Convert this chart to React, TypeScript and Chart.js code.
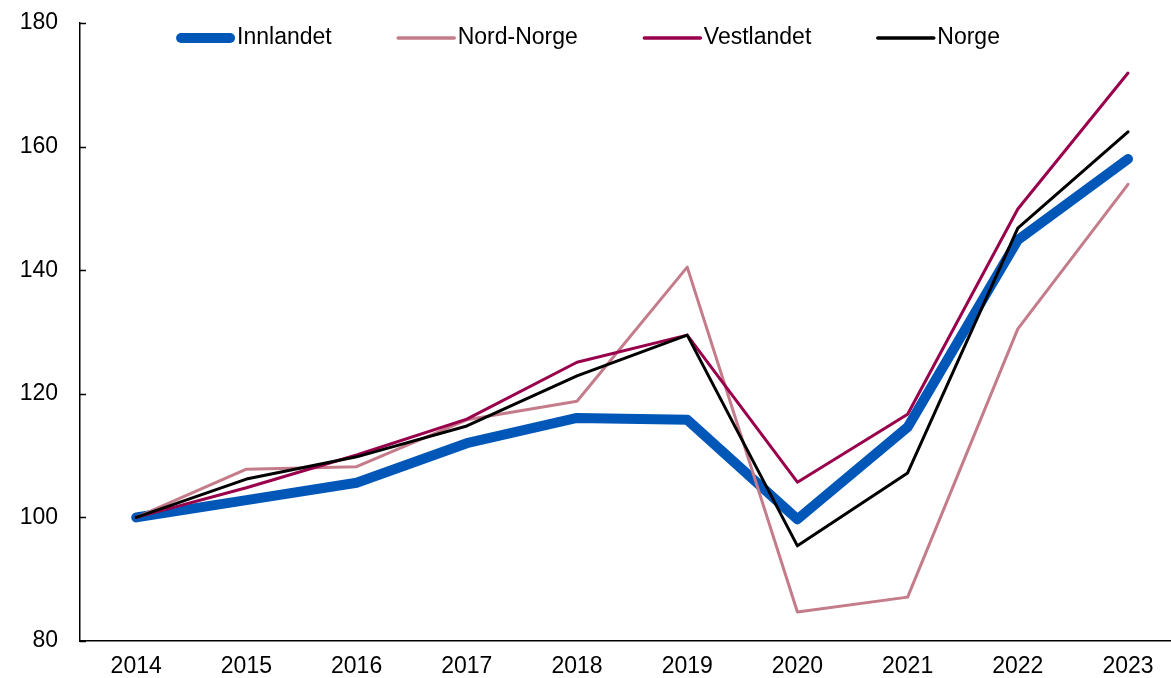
import React, { useEffect, useRef } from "react";
import { Chart, registerables } from "chart.js";

Chart.register(...registerables);

const years = [2014, 2015, 2016, 2017, 2018, 2019, 2020, 2021, 2022, 2023];
const innlandet = [100, 102.8, 105.6, 112, 116.1, 115.8, 99.7, 114.6, 144.9, 158];
const nordNorge = [100, 107.8, 108.2, 115.8, 118.8, 140.5, 84.7, 87.1, 130.5, 153.9];
const vestlandet = [100, 104.8, 110.1, 115.9, 125.1, 129.5, 105.7, 116.7, 149.9, 171.9];
const norge = [100, 106.2, 109.8, 114.8, 122.9, 129.5, 95.4, 107.2, 146.8, 162.4];
const yTicks = [80, 100, 120, 140, 160, 180];

const FONT = "'Liberation Sans', Arial, sans-serif";

const series = [
  { label: "Innlandet", data: innlandet, color: "#0057B8", width: 10, order: 3 },
  { label: "Nord-Norge", data: nordNorge, color: "#C47C8A", width: 3, order: 2 },
  { label: "Vestlandet", data: vestlandet, color: "#99004C", width: 3, order: 1 },
  { label: "Norge", data: norge, color: "#000000", width: 3, order: 0 },
];

const customPlugin = {
  id: "custom",
  afterDraw(chart: any) {
    const ctx = chart.ctx;
    const ys = chart.scales.y;
    const area = chart.chartArea;
    ctx.save();
    ctx.strokeStyle = "#000";
    ctx.lineWidth = 1.5;
    yTicks.forEach((v) => {
      const py = Math.round(ys.getPixelForValue(v)) + 0.5;
      ctx.beginPath();
      ctx.moveTo(area.left, py);
      ctx.lineTo(area.left + 6, py);
      ctx.stroke();
    });
    ctx.font = `23px ${FONT}`;
    ctx.textBaseline = "middle";
    ctx.textAlign = "left";
    const lineLen = 59;
    const textGap = 2;
    const itemGap = 65;
    const widths = series.map((s) => lineLen + textGap + ctx.measureText(s.label).width);
    const total = widths.reduce((a, b) => a + b, 0) + itemGap * (series.length - 1);
    let x = 588 - total / 2;
    const y = 38;
    series.forEach((s, i) => {
      ctx.strokeStyle = s.color;
      ctx.lineWidth = s.width === 10 ? 10 : 3.5;
      ctx.lineCap = "round";
      const cap = s.width === 10 ? 5 : 1.5;
      ctx.beginPath();
      ctx.moveTo(x + cap, y);
      ctx.lineTo(x + lineLen - cap, y);
      ctx.stroke();
      ctx.fillStyle = "#000";
      ctx.fillText(s.label, x + lineLen + textGap, y);
      x += widths[i] + itemGap;
    });
    ctx.restore();
  },
};

export default function App() {
  const ref = useRef<HTMLCanvasElement>(null);
  useEffect(() => {
    document.body.style.margin = "0";
    const canvas = ref.current!;
    const chart = new Chart(canvas, {
      type: "line",
      data: {
        datasets: series.map((s) => ({
          label: s.label,
          data: years.map((yr, i) => ({ x: yr, y: s.data[i] })),
          borderColor: s.color,
          backgroundColor: s.color,
          borderWidth: s.width,
          borderCapStyle: "round",
          borderJoinStyle: "round",
          pointRadius: 0,
          tension: 0,
          order: s.order,
        })),
      },
      options: {
        animation: false,
        responsive: false,
        maintainAspectRatio: false,
        layout: { padding: { top: 23, right: 0, left: 0, bottom: 0 } },
        plugins: { legend: { display: false }, tooltip: { enabled: false } },
        scales: {
          x: {
            type: "linear",
            min: 2013.49,
            max: 2023.39,
            afterBuildTicks: (scale: any) => {
              scale.ticks = years.map((v) => ({ value: v }));
            },
            afterFit: (scale: any) => {
              scale.height = 37;
              scale.paddingLeft = 0;
              scale.paddingRight = 0;
            },
            grid: { display: false, drawTicks: false },
            border: { display: true, color: "#000", width: 1.5 },
            ticks: {
              color: "#000",
              font: { family: FONT, size: 23 },
              padding: 12,
              maxRotation: 0,
              autoSkip: false,
              callback: (v: any) => String(v),
            },
          },
          y: {
            type: "linear",
            min: 80,
            max: 180,
            afterBuildTicks: (scale: any) => {
              scale.ticks = yTicks.map((v) => ({ value: v }));
            },
            afterFit: (scale: any) => {
              scale.width = 80;
              scale.paddingTop = 0;
              scale.paddingBottom = 0;
            },
            grid: { display: false, drawTicks: false },
            border: { display: true, color: "#000", width: 1.5 },
            ticks: {
              color: "#000",
              font: { family: FONT, size: 23 },
              padding: 22,
              callback: (v: any) => String(v),
            },
          },
        },
      },
      plugins: [customPlugin],
    } as any);
    return () => chart.destroy();
  }, []);
  return (
    <div style={{ width: 1171, height: 678, position: "relative" }}>
      <canvas ref={ref} width={1171} height={678} style={{ display: "block" }} />
    </div>
  );
}
